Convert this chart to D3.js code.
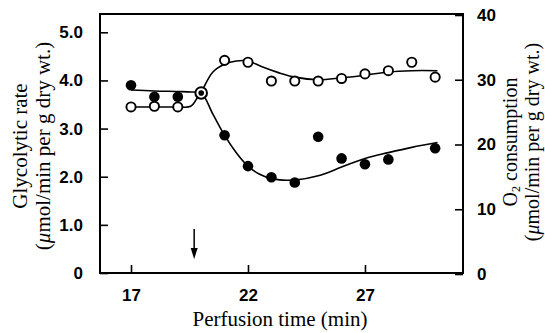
<!DOCTYPE html>
<html>
<head>
<meta charset="utf-8">
<script src="https://cdn.jsdelivr.net/npm/d3@7"></script>
<style>
  body { margin: 0; background: #fff; }
  svg { display: block; }
</style>
</head>
<body>
<div id="chart"></div>
<script>
// Glycolytic rate (left axis), filled circles
const glycolyticTimes = [17, 18, 19, 21, 22, 23, 24, 25, 26, 27, 28, 30];
const glycolyticRate = [3.90, 3.66, 3.66, 2.86, 2.22, 1.99, 1.88, 2.83, 2.38, 2.26, 2.36, 2.59];

// O2 consumption (right axis), open circles
const o2Times = [17, 18, 19, 21, 22, 23, 24, 25, 26, 27, 28, 29, 30];
const o2Consumption = [25.8, 25.9, 25.8, 33.0, 32.7, 29.8, 29.8, 29.8, 30.2, 30.9, 31.4, 32.7, 30.4];

// shared point at 20 min (both series meet)
const sharedPoint = { time: 20, glycolytic: 3.74, o2: 28.1 };

// hand-drawn fitted curves (time, value)
const glycolyticFit = [
  [17, 3.80], [18, 3.78], [19, 3.77], [19.6, 3.76], [20, 3.74], [20.5, 3.30],
  [21, 2.86], [21.5, 2.50], [22, 2.22], [22.5, 2.05], [23, 1.96], [23.5, 1.93],
  [24, 1.93], [25, 2.02], [26, 2.20], [27, 2.38], [28, 2.50], [29, 2.61], [30.1, 2.71]
];
const o2Fit = [
  [17, 25.8], [18, 25.8], [19, 25.8], [19.55, 25.9], [19.85, 27.3], [20, 28.1],
  [20.5, 31.2], [21, 32.4], [21.5, 32.9], [22, 32.9], [22.6, 32.0], [23.3, 31.1],
  [24, 30.4], [25, 30.0], [26, 30.3], [27, 30.7], [28, 31.2], [29, 31.4], [30.1, 31.4]
];

const arrowTime = 19.7;
const xTicks = [17, 22, 27];
const yLeftTicks = [0, 1, 2, 3, 4, 5];
const yRightTicks = [0, 10, 20, 30, 40];

const width = 545, height = 333;
const plot = { left: 100, right: 463, top: 14, bottom: 273 };

const svg = d3.select('#chart')
  .append('svg')
  .attr('width', width)
  .attr('height', height);

const x = d3.scaleLinear()
  .domain([15.675, 31.19])
  .range([plot.left, plot.right]);

const yLeft = d3.scaleLinear()
  .domain([0, 5.38])
  .range([plot.bottom, plot.top]);

const yRight = d3.scaleLinear()
  .domain([0, 40])
  .range([plot.bottom + 1, plot.top + 1]);

const tickFont = '"Liberation Sans", Arial, sans-serif';
const titleFont = '"Liberation Serif", "Times New Roman", serif';

// frame
svg.append('rect')
  .attr('x', plot.left)
  .attr('y', plot.top)
  .attr('width', plot.right - plot.left)
  .attr('height', plot.bottom - plot.top)
  .attr('fill', 'none')
  .attr('stroke', '#000')
  .attr('stroke-width', 2);

// bottom axis (ticks point inward)
const bottomAxis = svg.append('g')
  .attr('transform', `translate(0, ${plot.bottom})`)
  .call(d3.axisBottom(x).tickValues(xTicks).tickSizeInner(-8).tickSizeOuter(0).tickPadding(16));

// left axis
const leftAxis = svg.append('g')
  .attr('transform', `translate(${plot.left}, 0)`)
  .call(d3.axisLeft(yLeft).tickValues(yLeftTicks).tickSizeInner(-8).tickSizeOuter(0).tickPadding(17)
    .tickFormat(d => d === 0 ? '0' : d3.format('.1f')(d)));

// right axis
const rightAxis = svg.append('g')
  .attr('transform', `translate(${plot.right}, 0)`)
  .call(d3.axisRight(yRight).tickValues(yRightTicks).tickSizeInner(-8).tickSizeOuter(0).tickPadding(14));

[bottomAxis, leftAxis, rightAxis].forEach(ax => {
  ax.select('.domain').remove();
  ax.selectAll('.tick line').attr('stroke', '#000').attr('stroke-width', 1.6);
  ax.selectAll('.tick text')
    .attr('fill', '#000')
    .attr('font-family', tickFont)
    .attr('font-weight', 'bold')
    .attr('font-size', '17px');
});

// fitted curves
const line = (yScale) => d3.line()
  .x(d => x(d[0]))
  .y(d => yScale(d[1]))
  .curve(d3.curveCatmullRom.alpha(0.5));

svg.append('path')
  .datum(glycolyticFit)
  .attr('d', line(yLeft))
  .attr('fill', 'none')
  .attr('stroke', '#000')
  .attr('stroke-width', 1.6);

svg.append('path')
  .datum(o2Fit)
  .attr('d', line(yRight))
  .attr('fill', 'none')
  .attr('stroke', '#000')
  .attr('stroke-width', 1.6);

// open circles (O2)
svg.append('g')
  .selectAll('circle')
  .data(o2Times.map((t, i) => [t, o2Consumption[i]]))
  .join('circle')
  .attr('cx', d => x(d[0]))
  .attr('cy', d => yRight(d[1]))
  .attr('r', 4.6)
  .attr('fill', '#fff')
  .attr('stroke', '#000')
  .attr('stroke-width', 1.9);

// filled circles (glycolytic)
svg.append('g')
  .selectAll('circle')
  .data(glycolyticTimes.map((t, i) => [t, glycolyticRate[i]]))
  .join('circle')
  .attr('cx', d => x(d[0]))
  .attr('cy', d => yLeft(d[1]))
  .attr('r', 5.3)
  .attr('fill', '#000');

// shared point
svg.append('circle')
  .attr('cx', x(sharedPoint.time))
  .attr('cy', yLeft(sharedPoint.glycolytic))
  .attr('r', 5.8)
  .attr('fill', '#fff')
  .attr('stroke', '#000')
  .attr('stroke-width', 2);

svg.append('circle')
  .attr('cx', x(sharedPoint.time))
  .attr('cy', yLeft(sharedPoint.glycolytic))
  .attr('r', 2.8)
  .attr('fill', '#000');

// arrow marking the intervention
const ax0 = x(arrowTime);
svg.append('line')
  .attr('x1', ax0).attr('x2', ax0)
  .attr('y1', 229).attr('y2', 254)
  .attr('stroke', '#000')
  .attr('stroke-width', 1.5);
svg.append('path')
  .attr('d', `M${ax0 - 3.5},248 L${ax0},259 L${ax0 + 3.5},248 Z`)
  .attr('fill', '#000');

// axis titles
svg.append('text')
  .attr('x', 280)
  .attr('y', 326)
  .attr('text-anchor', 'middle')
  .attr('font-family', titleFont)
  .attr('font-size', '21px')
  .attr('fill', '#000')
  .text('Perfusion time (min)');

const leftTitle = svg.append('text')
  .attr('transform', 'translate(27, 146) rotate(-90)')
  .attr('text-anchor', 'middle')
  .attr('font-family', titleFont)
  .attr('font-size', '21px')
  .attr('fill', '#000');
leftTitle.append('tspan').attr('x', 0).attr('y', 0).text('Glycolytic rate');
leftTitle.append('tspan').attr('x', 0).attr('y', 23)
  .html('(<tspan font-style="italic">μ</tspan>mol/min per g dry wt.)');

const rightTitle = svg.append('text')
  .attr('transform', 'translate(517, 142) rotate(-90)')
  .attr('text-anchor', 'middle')
  .attr('font-family', titleFont)
  .attr('font-size', '20px')
  .attr('fill', '#000');
rightTitle.append('tspan').attr('x', 0).attr('y', 0)
  .html('O<tspan font-size="12px" dy="3">2</tspan><tspan dy="-3"> consumption</tspan>');
rightTitle.append('tspan').attr('x', 0).attr('y', 22)
  .html('(<tspan font-style="italic">μ</tspan>mol/min per g dry wt.)');
</script>
</body>
</html>
